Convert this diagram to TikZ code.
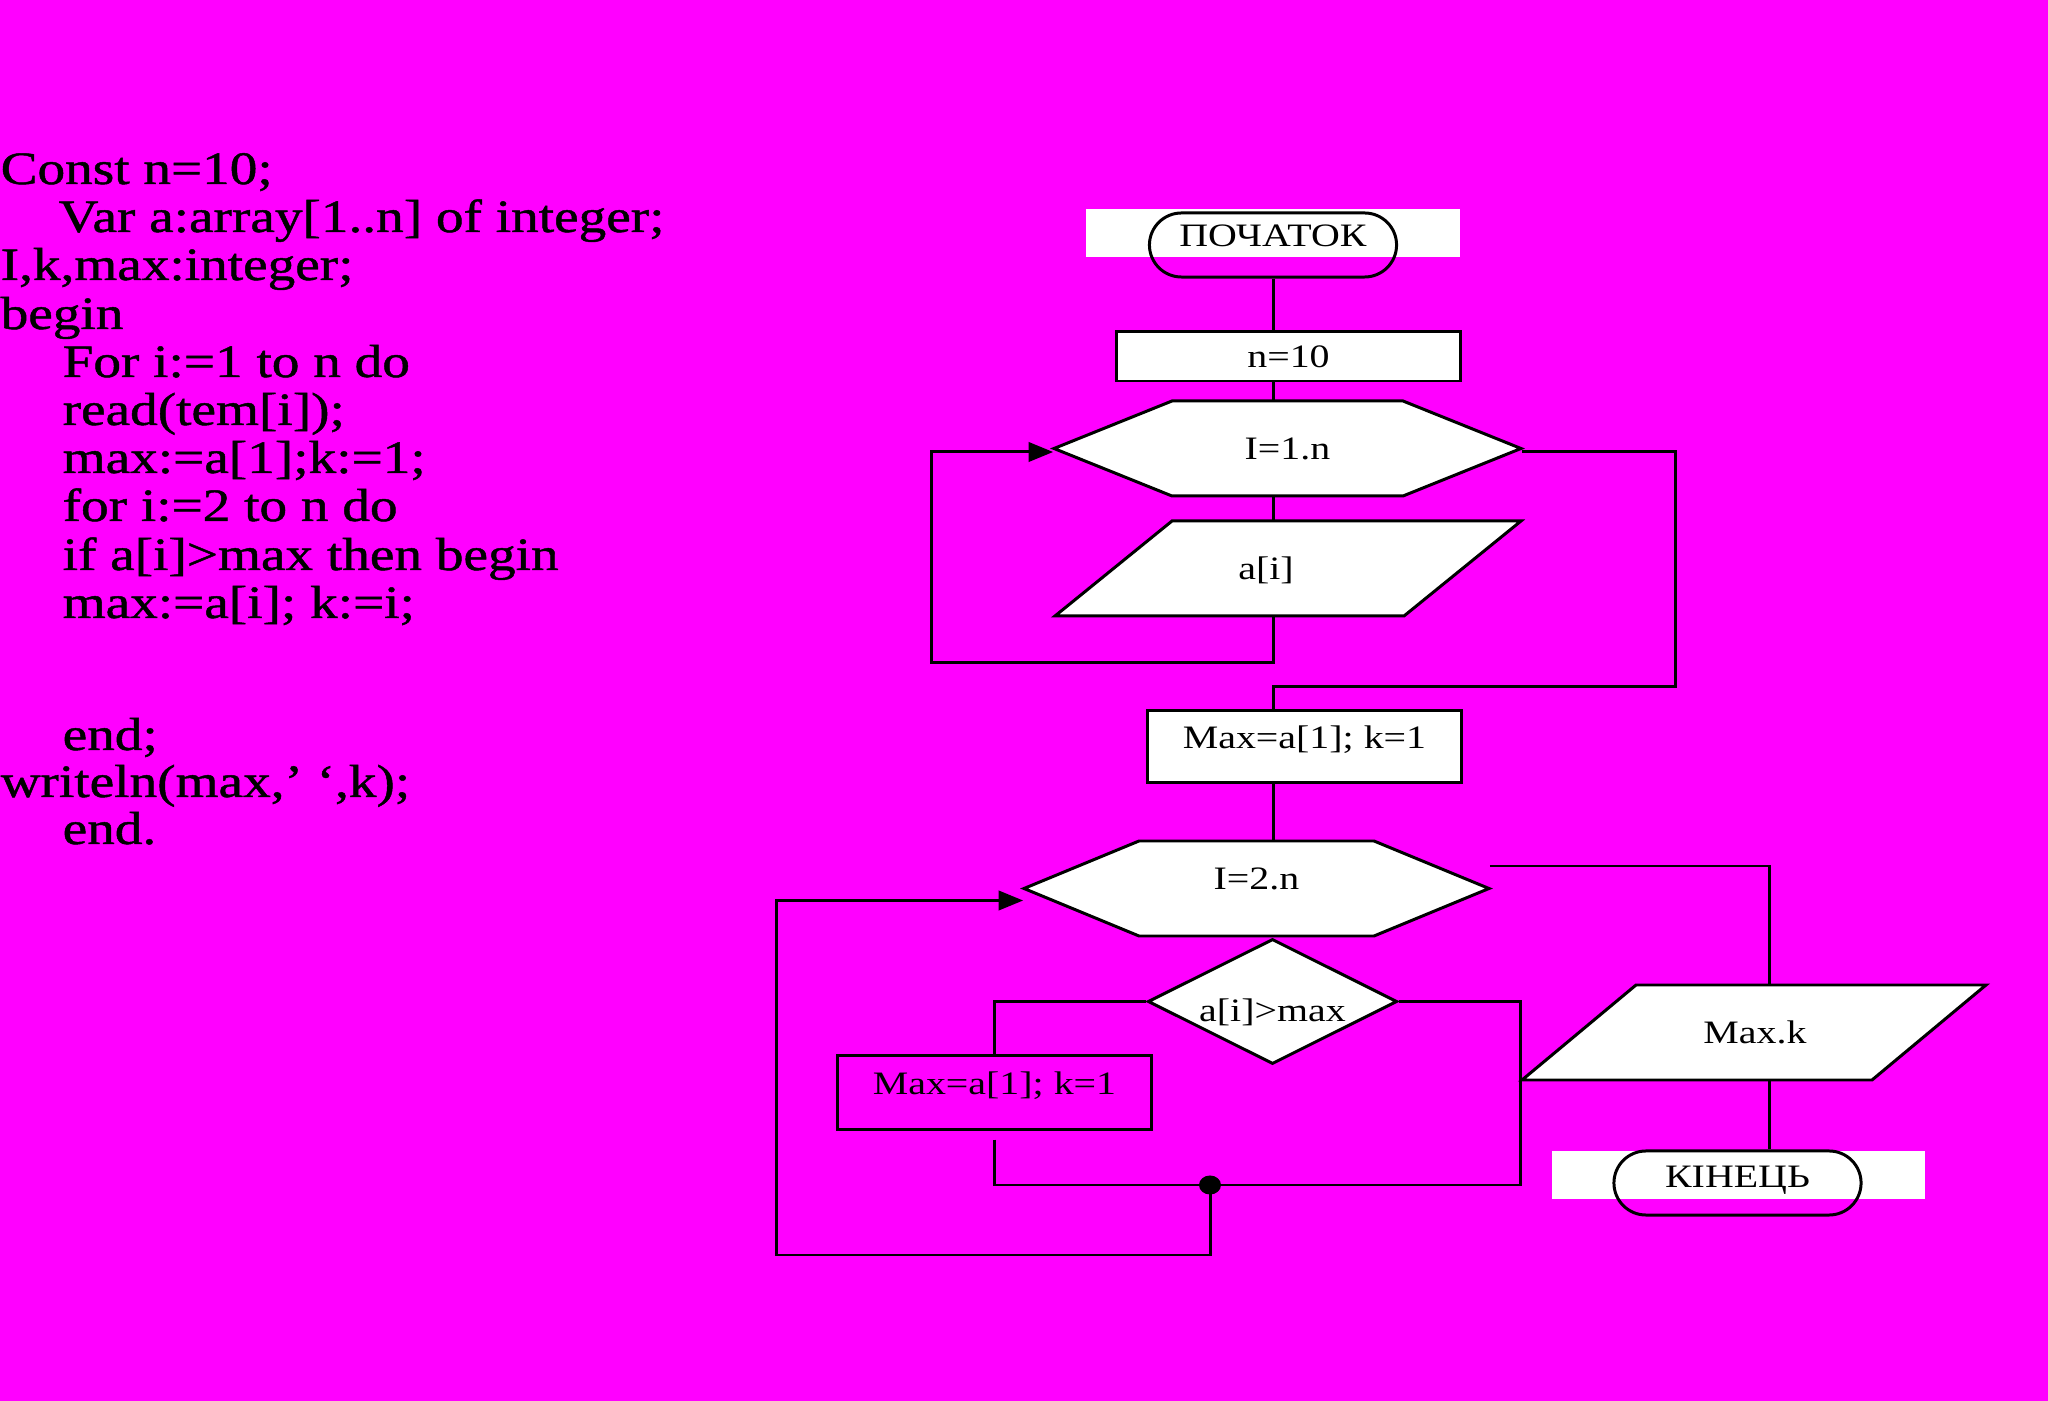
\documentclass[tikz,border=0pt]{standalone}
\usepackage{fontspec}
\setmainfont{Liberation Serif}
\newfontfamily\codefont[FakeStretch=1.19,FakeBold=1]{Liberation Serif}
\newfontfamily\boxfont[FakeStretch=1.22]{Liberation Serif}
\usetikzlibrary {arrows.meta}
\usetikzlibrary{shapes.geometric,shapes.misc}

\definecolor{bgmagenta}{RGB}{255,0,255}

\tikzset{
  wire/.style={line width=0.85pt},
  flow/.style={wire, -{Triangle[length=7pt,width=5.5pt]}},
  boxtext/.style={font=\boxfont\fontsize{9.3}{11}\selectfont, inner sep=0pt, text height=6pt, text depth=0pt},
  procbox/.style={boxtext, rectangle, draw, wire},
  termbox/.style={boxtext, rounded rectangle, draw, wire, minimum width=2.47cm, minimum height=0.64cm},
  shapelabel/.style={boxtext, minimum height=0.95cm},
  shapefill/.style={wire, draw, fill=white},
  decision/.style={boxtext, diamond, aspect=2, draw, wire, fill=white, minimum width=2.49cm, minimum height=1.25cm},
  code/.style={font=\codefont\fontsize{13.2}{16}\selectfont, inner sep=0pt, anchor=base west},
}

\begin{document}
\begin{tikzpicture}[x=0.01cm, y=-0.01cm]
      \def\hexpath#1#2#3#4{\filldraw[shapefill] (#1-#3,#2) -- (#1-#3+#4,#2-47.5) -- (#1+#3-#4,#2-47.5) -- (#1+#3,#2) -- (#1+#3-#4,#2+47.5) -- (#1-#3+#4,#2+47.5) -- cycle;}
      \def\parapath#1#2#3#4{\filldraw[shapefill] (#1-#3,#2+47.5) -- (#1-#3+#4,#2-47.5) -- (#1+#3,#2-47.5) -- (#1+#3-#4,#2+47.5) -- cycle;}

      \useasboundingbox (0,0) rectangle (2048,1401);
      \fill[bgmagenta] (0,0) rectangle (2048,1401);

      % program text
      \foreach \i/\dx/\by/\txt in {1/0/184/{Const n=10;}, 2/58/232/{Var a:array[1..n] of integer;},
          3/0/280/{I,k,max:integer;}, 4/0/329/{begin}, 5/62/377/{For i:=1 to n do},
          6/62/425/{read(tem[i]);}, 7/62/473/{max:=a[1];k:=1;}, 8/62/521/{for i:=2 to n do},
          9/62/570/{if a[i]>max then begin}, 10/62/618/{max:=a[i]; k:=i;}, 11/62/750/{end;},
          12/0/797/{writeln(max,’ ‘,k);}, 13/62/844/{end.}}
        \node[code] (code\i) at (\dx,\by) {\txt};

      % flowchart
      \fill[white] (1086,209) rectangle (1460,257);
      \fill[white] (1552,1151) rectangle (1925,1199);
      \coordinate (axis) at (1273,0);

      \node[termbox, text depth=4.9pt] (start) at (1273,245) {ПОЧАТОК};
      \node[procbox, fill=white, minimum width=3.43cm, minimum height=0.49cm] (n10) at (1288.5,356.5) {n=10};
      \hexpath{1287.5}{448.5}{233.5}{118}
      \node[shapelabel, minimum width=4.67cm] (loop1) at (1287.5,448.5) {I=1.n};
      \parapath{1288}{568.5}{233}{117}
      \node[shapelabel] (input) at (1266,568.5) {a[i]};
      \node[procbox, fill=white, text depth=4.6pt, minimum width=3.13cm, minimum height=0.71cm] (init) at (1304.5,746.5) {Max=a[1]; k=1};
      \hexpath{1256.5}{888.5}{232.5}{115}
      \node[shapelabel, text depth=5.7pt, minimum width=4.65cm] (loop2) at (1256.5,888.5) {I=2.n};
      \node[decision, text height=11.3pt] (cond) at (1272.5,1001.5) {a[i]>max};
      \node[procbox, text depth=4.6pt, minimum width=3.13cm, minimum height=0.73cm] (assign) at (994.5,1092.5) {Max=a[1]; k=1};
      \parapath{1754}{1032.5}{232}{114}
      \node[shapelabel] (output) at (1755,1032.5) {Max.k};
      \node[termbox, text depth=3.2pt] (stop) at (1737.5,1183) {КІНЕЦЬ};

      \coordinate (back1) at (931,663);
      \coordinate (exit1) at (1675,687);
      \coordinate (exit2) at (1769,866);
      \coordinate (join) at (1210,1185);
      \coordinate (merge) at (1520,1185);
      \coordinate (back2) at (776,1255);

      \draw[wire] (start.south) -- (axis |- n10.north);
      \draw[wire] (axis |- n10.south) -- (axis |- loop1.north);
      \draw[wire] (axis |- loop1.south) -- (axis |- input.north);
      \draw[flow] (axis |- input.south) -- (axis |- back1) -- (back1) |- ([yshift=-0.035cm]loop1.west);
      \draw[wire] ([yshift=-0.035cm]loop1.east) -| (exit1) -- (axis |- exit1) -- (axis |- init.north);
      \draw[wire] (axis |- init.south) -- (axis |- loop2.north);
      \draw[wire] (loop2.east |- exit2) -- (exit2) -- (exit2 |- output.north);
      \draw[wire] (exit2 |- output.south) -- (exit2 |- stop.north);
      \draw[wire] (cond.west) -| (assign.north);
      \draw[wire] ([yshift=-0.09cm]assign.south) |- (join);
      \draw[wire] (cond.east) -| (merge) -- (join);
      \draw[flow] (join) -- (join |- back2) -- (back2) |- ([yshift=-0.12cm]loop2.west);
      \fill (join) ellipse (0.11cm and 0.095cm);

    \end{tikzpicture}
\end{document}
